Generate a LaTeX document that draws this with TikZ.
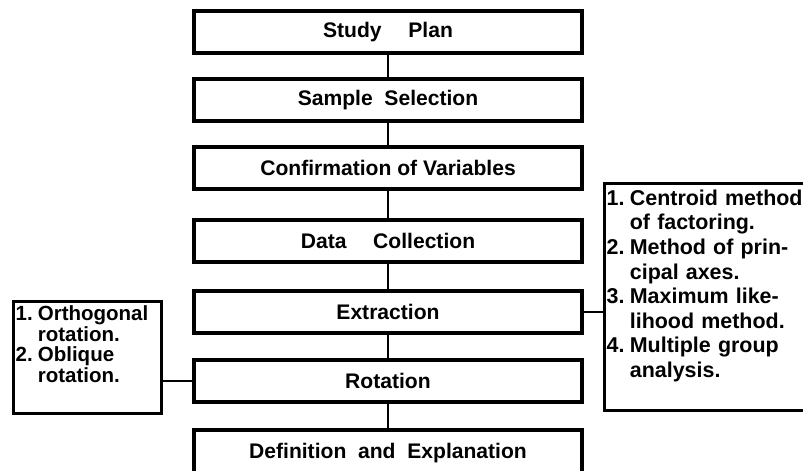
\documentclass[tikz,border=0pt]{standalone}
\usepackage{fontspec}
\setmainfont{Liberation Sans}

\begin{document}
\begin{tikzpicture}[x=0.03cm, y=-0.03cm,
    stage/.style={draw, line width=2.6pt, minimum width=11.64cm,
        minimum height=1.26cm, inner sep=0pt,
        font=\fontsize{18}{21}\selectfont\bfseries},
    listbox/.style={draw, line width=2.2pt, anchor=north west,
        inner xsep=2pt, inner ysep=4pt, align=left},
    link/.style={line width=2.2pt}]

    \useasboundingbox (0,0) rectangle (803,471);
    \clip (0,0) rectangle (803,471);

    \node[stage] (plan) at (388,32)
        {Study\hspace{0.8cm}Plan};

    \node[stage] (sample) at (388,100)
        {Sample\ \ Selection};

    \node[stage] (confirm) at (388,168)
        {Confirmation of Variables};

    \node[stage] (data) at (388,241)
        {Data\hspace{0.8cm}Collection};

    \node[stage] (extract) at (388,312)
        {Extraction};

    \node[stage] (rotate) at (388,381)
        {Rotation};

    \node[stage, minimum height=1.38cm] (define) at (388,453)
        {Definition\ \ and\ \ Explanation};

    \node[listbox, text width=4.3cm,
        font=\fontsize{17.5}{16}\selectfont\bfseries] (opts) at (12,300)
        {\begin{tabular}{@{}l@{\hspace{0.25em}}l@{}}
            1. & Orthogonal\\
               & rotation.\\
            2. & Oblique\\
               & rotation.\\[18pt]
        \end{tabular}};

    \node[listbox, text width=6.2cm,
        font=\fontsize{18.3}{21}\selectfont\bfseries] (methods) at (603,182)
        {\begin{tabular}{@{}l@{\hspace{0.25em}}l@{}}
            1. & Centroid method\\
               & of factoring.\\
            2. & Method of prin-\\
               & cipal axes.\\
            3. & Maximum like-\\
               & lihood method.\\
            4. & Multiple group\\
               & analysis.\\[18pt]
        \end{tabular}};

    \draw[link] (plan) -- (sample);
    \draw[link] (sample) -- (confirm);
    \draw[link] (confirm) -- (data);
    \draw[link] (data) -- (extract);
    \draw[link] (extract) -- (rotate);
    \draw[link] (rotate) -- (define);

    \draw[link] (extract.east) -- (extract.east -| methods.west);
    \draw[link] (rotate.west) -- (rotate.west -| opts.east);

\end{tikzpicture}
\end{document}
